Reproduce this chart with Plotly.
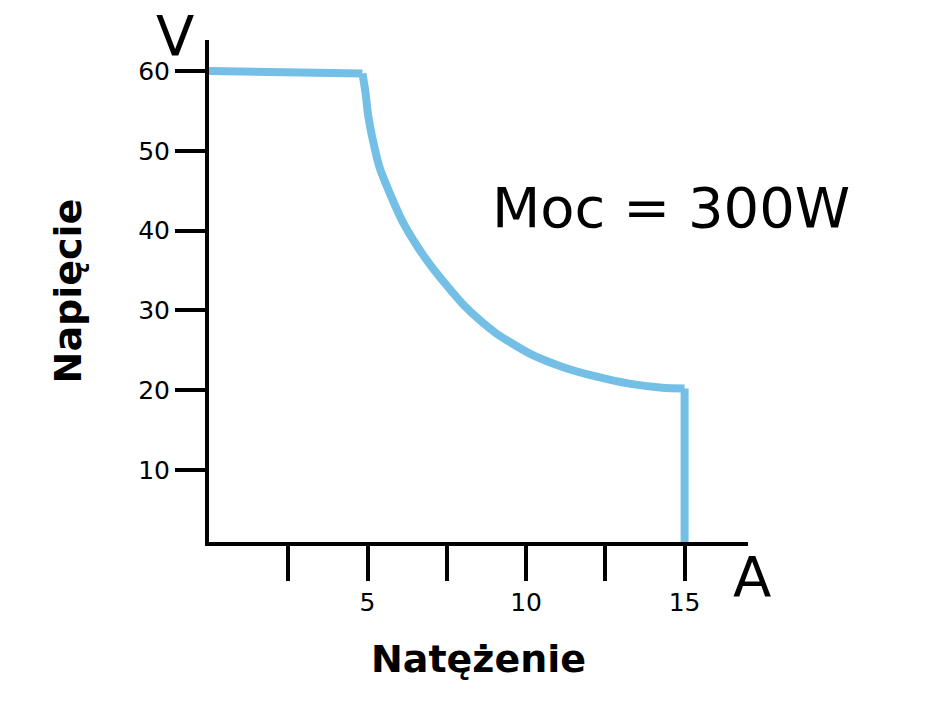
import plotly.graph_objects as go

# Current (A) and voltage (V) of the constant-power characteristic
current = [0.0, 4.84, 4.94, 5.01, 5.17, 5.38, 5.70, 6.11, 6.64, 6.96, 7.48, 8.00, 8.53,
           9.06, 10.10, 11.15, 12.20, 13.25, 14.30, 15.0, 15.0]
voltage = [60.0, 59.7, 57.2, 54.7, 51.3, 47.9, 44.7, 41.1, 37.6, 35.8, 33.2, 30.8, 28.8,
           27.1, 24.6, 22.9, 21.7, 20.8, 20.3, 20.2, 0.0]

x_tick_vals = [2.5, 5, 7.5, 10, 12.5, 15]
x_tick_text = ["", "5", "", "10", "", "15"]
y_tick_vals = [10, 20, 30, 40, 50, 60]
y_tick_text = ["10", "20", "30", "40", "50", "60"]

FONT = "DejaVu Sans"
LINE_COLOR = "#74BFE6"

# plot area in window pixels: x 209..748, y 40..542 (page body has an 8px offset)
PX_L, PX_R, PX_T, PX_B = 209, 748, 40, 542


def px(xp, yp):
    return (xp - PX_L) / (PX_R - PX_L), (PX_B - yp) / (PX_B - PX_T)


fig = go.Figure()
# sharp corners: straight current-limit segment, smooth power curve, straight voltage drop
segments = [
    (slice(0, 2), "linear"),
    (slice(1, len(current) - 1), "spline"),
    (slice(len(current) - 2, len(current)), "linear"),
]
for sl, shape in segments:
    fig.add_trace(go.Scatter(
        x=current[sl], y=voltage[sl], mode="lines",
        line=dict(color=LINE_COLOR, width=8, shape=shape, smoothing=0.6),
        hoverinfo="skip", showlegend=False,
    ))

vx, vy = px(175, 35)
ax_, ay_ = px(752, 576)
mx, my = px(671, 207)

fig.update_layout(
    width=931, height=713,
    margin=dict(l=201, r=191, t=32, b=179, autoexpand=False),
    paper_bgcolor="white", plot_bgcolor="white",
    font=dict(family=FONT, color="black"),
    showlegend=False,
    xaxis=dict(
        range=[0, 17], showgrid=False, zeroline=False,
        showline=True, linecolor="black", linewidth=4,
        ticks="outside", ticklen=35, tickwidth=4, tickcolor="black",
        tickvals=x_tick_vals, ticktext=x_tick_text,
        tickfont=dict(family=FONT, size=25, color="black"),
        title=dict(text="<b>Natężenie</b>", font=dict(family=FONT, size=38, color="black"), standoff=30),
        automargin=False,
    ),
    yaxis=dict(
        range=[0.94, 63.9], showgrid=False, zeroline=False,
        showline=True, linecolor="black", linewidth=4,
        ticks="outside", ticklen=30, tickwidth=4, tickcolor="black",
        tickvals=y_tick_vals, ticktext=y_tick_text,
        tickfont=dict(family=FONT, size=25, color="black"),
        title=dict(text="<b>Napięcie</b>", font=dict(family=FONT, size=38, color="black"), standoff=46),
        automargin=False,
    ),
    annotations=[
        dict(text="V", xref="paper", yref="paper", x=vx, y=vy,
             xanchor="center", yanchor="middle", showarrow=False,
             font=dict(family=FONT, size=56, color="black")),
        dict(text="A", xref="paper", yref="paper", x=ax_, y=ay_,
             xanchor="center", yanchor="middle", showarrow=False,
             font=dict(family=FONT, size=56, color="black")),
        dict(text="Moc = 300W", xref="paper", yref="paper", x=mx, y=my,
             xanchor="center", yanchor="middle", showarrow=False,
             font=dict(family=FONT, size=56, color="black")),
    ],
)

fig.write_html("out.html")
